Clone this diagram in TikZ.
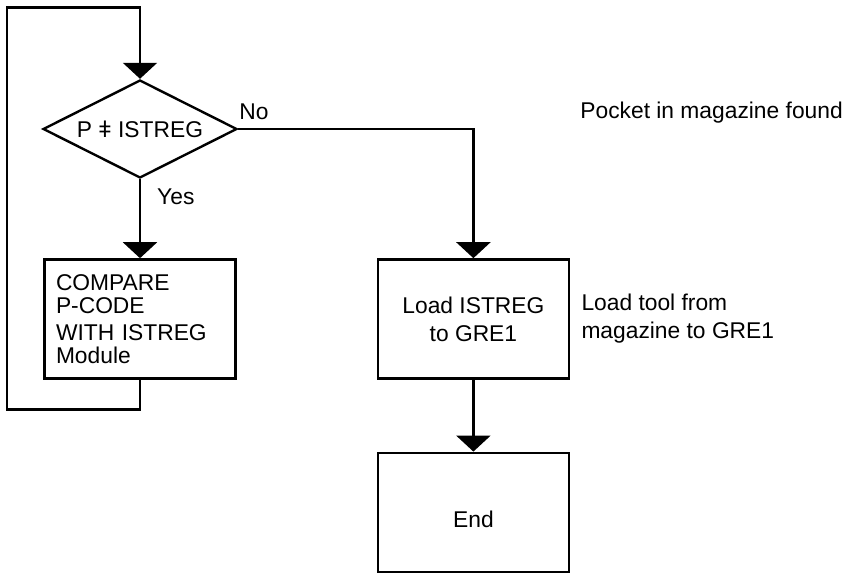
\documentclass[tikz,border=0pt]{standalone}
\usepackage{fontspec}
\setmainfont{Liberation Sans}
\usetikzlibrary{shapes.geometric,arrows.meta,positioning}
\tikzset{
  pf_dec/.style={
    draw, diamond, line width=1.2pt, aspect=2, inner sep=0pt,
    minimum width=97pt, minimum height=49pt
  },
  pf_box/.style={
    draw, rectangle, line width=1.2pt,
    minimum width=95.5pt, minimum height=59.5pt
  },
  pf_lbl/.style={inner sep=0pt},
  pf_note/.style={inner sep=0pt, align=left},
  pf_arr/.style={-{Triangle[width=17pt,length=8pt]}, line width=1.2pt},
}

\begin{document}
\begin{tikzpicture}[x=0.5pt, y=-0.5pt, font=\fontsize{11.4}{14}\selectfont]
\useasboundingbox (0,0) rectangle (859,573);

\node[pf_dec] (chk) at (140,129) {P ǂ ISTREG};
\node[pf_box, below=39.5pt of chk, text width=84pt, align=left,
      font=\fontsize{11.4}{11.5}\selectfont] (cmp) {COMPARE\\P-CODE\\[2pt]WITH ISTREG\\Module};
\node[pf_box, right=70pt of cmp, align=center] (load) {Load ISTREG\\to GRE1};
\node[pf_box, below=36pt of load, text height=15.5pt] (endb) {End};

% Notes
\node[pf_note, anchor=west] (pocket) at (580,113) {Pocket in magazine found};
\node[pf_note, right=5.5pt of load] (loadnote) {Load tool from\\magazine to GRE1};

% Flow
\draw[pf_arr] (chk) -- node[pf_lbl, right=8pt, pos=0.22] {Yes} (cmp);
\draw[pf_arr] (chk.east) node[pf_lbl, above right=4pt and 0pt] {No} -| (load.north);
\draw[pf_arr] (load) -- (endb);

% Loop back to the test
\draw[pf_arr] (cmp.south) -- ++(0,30) -| ++(-133,-402) -| (chk.north);

\end{tikzpicture}
\end{document}
